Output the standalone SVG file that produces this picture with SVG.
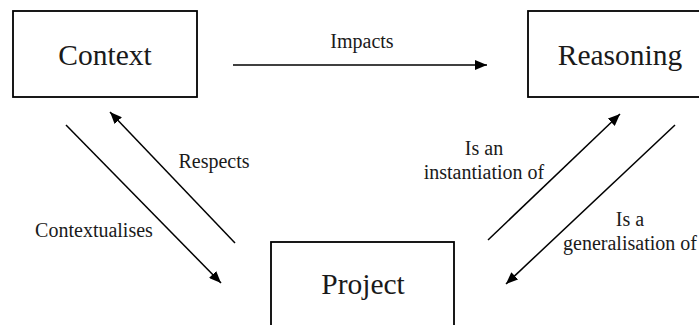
<svg xmlns="http://www.w3.org/2000/svg" width="699" height="325" viewBox="0 0 699 325">
<style>
.box{fill:#fff;stroke:#000;stroke-width:1.8}
.t{font-family:'Liberation Serif','Times New Roman',serif;fill:#1a1a1a;text-anchor:middle}
.big{font-size:29.5px}
.lab{font-size:20px}
.c{stroke:#000;stroke-width:1.5;fill:none;marker-end:url(#ah)}
</style>
<defs>
<marker id="ah" viewBox="0 0 12 10" refX="12" refY="5" markerWidth="12" markerHeight="10" markerUnits="userSpaceOnUse" orient="auto">
<path d="M0,0 L12,5 L0,10 z" fill="#000"/>
</marker>
</defs>
<rect width="699" height="325" fill="#fff"/>
<g id="context"><rect class="box" x="13" y="11" width="184" height="86"/><text class="t big" x="105" y="65">Context</text></g>
<g id="reasoning"><rect class="box" x="528" y="11" width="184" height="86"/><text class="t big" x="620" y="65">Reasoning</text></g>
<g id="project"><rect class="box" x="271" y="242" width="183" height="90"/><text class="t big" x="363" y="294">Project</text></g>
<g id="connectors">
<line class="c" x1="233" y1="65" x2="487" y2="65"/>
<line class="c" x1="66" y1="125" x2="221" y2="283"/>
<line class="c" x1="235" y1="243" x2="110" y2="112"/>
<line class="c" x1="488" y1="240" x2="620" y2="114"/>
<line class="c" x1="675" y1="125" x2="506" y2="284"/>
<text class="t lab" x="362" y="48">Impacts</text>
<text class="t lab" x="214" y="168">Respects</text>
<text class="t lab" x="94" y="237">Contextualises</text>
<text class="t lab" x="484" y="155">Is an</text>
<text class="t lab" x="484" y="179">instantiation of</text>
<text class="t lab" x="630" y="226">Is a</text>
<text class="t lab" x="630" y="250">generalisation of</text>
</g>
</svg>
